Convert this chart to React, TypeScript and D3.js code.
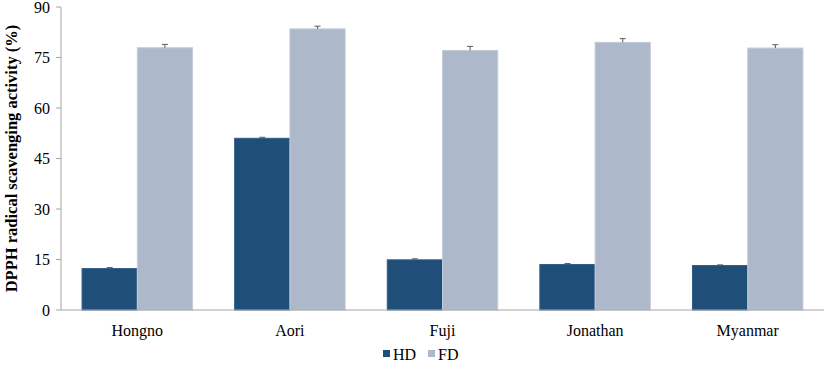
import React from 'react';
import * as d3 from 'd3';

const categories = ['Hongno', 'Aori', 'Fuji', 'Jonathan', 'Myanmar'];
const seriesNames = ['HD', 'FD'];
const hdValues = [12.3, 51.0, 14.9, 13.5, 13.2];
const fdValues = [77.9, 83.5, 77.1, 79.5, 77.8];
const hdErrors = [0.3, 0.3, 0.3, 0.3, 0.2];
const fdErrors = [1.0, 0.8, 1.2, 1.1, 1.0];
const yTicks = [0, 15, 30, 45, 60, 75, 90];

const colors: Record<string, string> = { HD: '#1f4e79', FD: '#adb9ca' };
const strokes: Record<string, string> = { HD: '#2e5c88', FD: '#c3cdd9' };

const width = 827;
const height = 366;
const margin = { top: 7, right: 3, bottom: 56, left: 61 };

const font = "'Liberation Serif', 'Times New Roman', 'DejaVu Serif', serif";
const txt = { fontFamily: font };

const App: React.FC = () => {
  const innerW = width - margin.left - margin.right;
  const innerH = height - margin.top - margin.bottom;

  const x = d3.scaleBand().domain(categories).range([0, innerW]).paddingInner(0.276).paddingOuter(0.138);
  const xs = d3.scaleBand().domain(seriesNames).range([0, x.bandwidth()]);
  const y = d3.scaleLinear().domain([0, 90]).range([innerH, 0]);

  const rows = categories.map((c, i) => ({
    c,
    vals: [
      { s: 'HD', v: hdValues[i], e: hdErrors[i] },
      { s: 'FD', v: fdValues[i], e: fdErrors[i] },
    ],
  }));

  return (
    <svg width={width} height={height} style={{ position: 'absolute', left: 0, top: 0, background: '#fff' }}>
      <g transform={`translate(${margin.left},${margin.top})`}>
        {/* y axis */}
        <line x1={0} x2={0} y1={0} y2={innerH} stroke="#a6a6a6" strokeWidth={1} />
        {yTicks.map(t => (
          <g key={t} transform={`translate(0,${y(t)})`}>
            <line x1={-5} x2={0} stroke="#a6a6a6" />
            <text x={-11} dy="0.35em" textAnchor="end" style={txt} fontSize={16} fill="#000">{t}</text>
          </g>
        ))}
        {/* bars */}
        {rows.map(r => (
          <g key={r.c} transform={`translate(${x(r.c)},0)`}>
            {r.vals.map(d => {
              const bx = xs(d.s) || 0;
              const cx = bx + xs.bandwidth() / 2;
              return (
                <g key={d.s}>
                  <rect x={bx} y={y(d.v)} width={xs.bandwidth()} height={innerH - y(d.v)}
                    fill={colors[d.s]} stroke={strokes[d.s]} strokeWidth={1} />
                  <line x1={cx} x2={cx} y1={y(d.v)} y2={y(d.v + d.e)} stroke="#595959" strokeWidth={1} />
                  <line x1={cx - 3} x2={cx + 3} y1={y(d.v + d.e)} y2={y(d.v + d.e)} stroke="#595959" strokeWidth={1} />
                </g>
              );
            })}
            <text x={x.bandwidth() / 2} y={innerH + 26} textAnchor="middle" style={txt} fontSize={16} fill="#000">{r.c}</text>
          </g>
        ))}
        {/* x axis */}
        <line x1={0} x2={innerW} y1={innerH} y2={innerH} stroke="#a6a6a6" strokeWidth={1} />
      </g>
      {/* y title */}
      <text transform={`translate(17,${margin.top + innerH / 2}) rotate(-90)`} textAnchor="middle"
        style={txt} fontSize={16.5} fontWeight="bold" fill="#000">DPPH radical scavenging activity (%)</text>
      {/* legend */}
      <g transform="translate(383,354)">
        {seriesNames.map((s, i) => (
          <g key={s} transform={`translate(${i * 45},0)`}>
            <rect x={0} y={-4} width={7} height={7} fill={colors[s]} />
            <text x={10} dy="0.35em" style={txt} fontSize={16} fill="#000">{s}</text>
          </g>
        ))}
      </g>
    </svg>
  );
};

export default App;
